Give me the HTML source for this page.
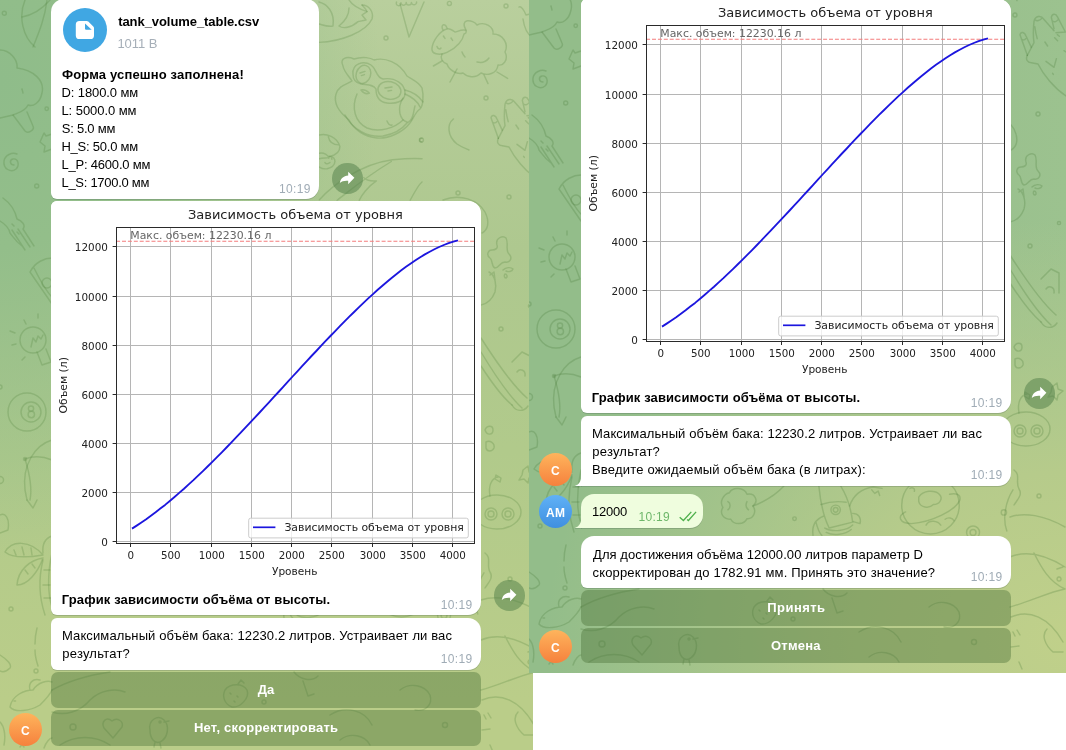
<!DOCTYPE html>
<html lang="ru"><head><meta charset="utf-8"><title>Telegram</title>
<style>
html,body{margin:0;padding:0;background:#fff}
body{width:1066px;height:750px;position:relative;overflow:hidden;font-family:"Liberation Sans",sans-serif;font-size:13px;color:#000}
.panel{position:absolute;overflow:hidden}
#L{left:0;top:0;width:533px;height:750px;background:#b8cd90}
#R{left:529px;top:0;width:537px;height:673px;background:linear-gradient(90deg,#93bd8a 0%,#93bd8a 45%,#9cc28f 100%)}
.bg{position:absolute;left:0;top:0;right:0;bottom:0}
.b{position:absolute;background:#fff;box-shadow:0 1px 0.5px rgba(16,35,47,0.16);overflow:hidden}
.t{position:absolute;white-space:nowrap;line-height:18px;height:18px}
.bold{font-weight:700}
.time{font-size:12px;color:#a0acb6}
.gtime{font-size:12px;color:#6eb76a}
.grey{color:#a6afb8}
.btn{position:absolute;border-radius:7px;background:rgba(76,115,57,0.42);color:#fff;font-weight:700;text-align:center}
.fwd{position:absolute;width:30.5px;height:30.5px;border-radius:50%;background:rgba(80,126,72,0.5)}
.av{position:absolute;width:33px;height:33px;border-radius:50%;color:#fff;font-weight:700;font-size:12px;text-align:center;line-height:36px;letter-spacing:0.3px}
.or{background:linear-gradient(#feb45c,#f6813d)}
.bl{background:linear-gradient(#60b1f6,#3f8fe0)}
.pat{position:absolute;left:0;top:0}
.chart{position:absolute;left:0;top:0;display:block}

.w{color:#fff}
</style></head><body>
<div class="panel" id="L">
<div class="bg" style="background:radial-gradient(ellipse 380px 480px at 0px 80px,#8fbc8a 0%,#93be8a 35%,rgba(147,190,138,0) 100%),linear-gradient(180deg,#b9cf9d 0px,#b3cb96 110px,#aec88f 250px,#b1ca8b 450px,#bacd89 700px)"></div>
<svg class="pat" width="533" height="750" viewBox="0 0 533 750" stroke="rgba(75,125,55,0.24)"><g id="pat" fill="none" stroke-linecap="round" stroke-linejoin="round" stroke-width="1.45"><circle cx="4.3" cy="13.3" r="2"/><path d="M25,0 C18,17 23,37 35,47"/><path d="M22,17 C33,15 43,8 50,0"/><path d="M33,47 C40,30 45,17 47,0"/><path d="M0,50 C10,50 18,60 17,68 C33,70 45,80 42,93 C40,103 33,107 28,105 C25,112 17,113 13,115 L0,118"/><path d="M13,115 L25,131 C28,134 35,130 33,126 L27,112"/><path d="M22,89 l1,4"/><circle cx="46.7" cy="108.7" r="1.7"/><path d="M52,134 L46,136 L44,133 L40,142 L45,146 L44,152 L52,149"/><path d="M14,165 C10,165 9,160 13,159 C18,158 20,165 16,169 C11,173 3,169 4,161 C5,155 12,152 17,154"/><circle cx="36.7" cy="186" r="2"/><path d="M3,198 C10,203 15,210 17,219 C22,221 26,225 23,229 L34,246 M18,229 L30,247 M12,230 L25,250 M0,221 C5,224 9,228 10,233 C14,238 16,242 22,246"/><path d="M12,224 l2,2 M17,232 l2,2"/><path d="M30,272 C35,262 45,258 52,258 M30,272 L52,304 M34,268 C38,276 45,290 52,297"/><circle cx="47" cy="283" r="5"/><circle cx="33" cy="340" r="13"/><path d="M37,352 L42,365 L51,362 L46,349"/><path d="M10,331 l5,2 M12,345 l4,-1 M24,320 l2,4 M38,314 l0,4 M22,360 l3,-3"/><path d="M31,347 l2,-9 l3,4 l2,-6 l3,3 l2,-4"/><circle cx="27" cy="412" r="19"/><circle cx="31" cy="412" r="10"/><circle cx="31" cy="408.5" r="2.6"/><circle cx="31.3" cy="414.5" r="3.2"/><circle cx="0" cy="387" r="2"/><path d="M52,440 C35,445 22,465 25,490 L27,500"/><path d="M25,459 C35,455 45,457 52,460"/><path d="M25,459 C30,475 32,490 30,500"/><circle cx="25" cy="459" r="1.5"/><circle cx="0" cy="480" r="3.5"/><path d="M0,515 C5,512 10,518 8,530 L0,533"/><path d="M27,500 L33,508 L37,500"/><path d="M43,560 C38,580 40,600 45,615 M52,553 C47,575 48,595 52,607"/><path d="M43,555 C30,540 12,540 5,552 C12,558 25,558 43,555 M14,550 l2,5 M22,547 l2,8 M31,548 l1,7"/><path d="M43,558 C30,560 18,570 17,585 C28,585 38,572 43,558 M25,570 l3,4 M32,564 l3,4"/><path d="M43,553 C42,543 46,538 52,536"/><path d="M44,570 h6 M43,585 h7 M44,598 h7"/><circle cx="11" cy="609" r="2"/><path d="M37,628 C35,636 35,640 35,644 M35,650 C35,656 36,660 38,666"/><path d="M0,655 C8,660 12,665 10,668 C6,672 2,672 0,671"/><circle cx="36" cy="671" r="2"/><path d="M10,707 C12,695 25,690 33,690 C38,682 48,680 52,682 M10,707 C15,713 30,711 40,705 C45,700 50,695 52,690 M30,690 C28,683 33,678 40,680 M14,701 l1.5,0"/><path d="M20,742 l4,5 M24,742 l-4,5"/><path d="M0,722 C4,726 6,735 4,745"/><path d="M44,748 C46,742 50,738 52,738"/><g transform="translate(319,0) scale(0.20000)" stroke-width="7.25"><path d="M0,212 C110,208 235,160 265,95 C275,60 250,25 215,25"/><path d="M150,0 C165,25 200,45 240,58 L215,75 L235,100 L195,108 C160,140 120,145 100,130 C125,110 150,80 150,40"/><path d="M0,10 C40,20 80,60 70,130 C40,135 20,125 0,120"/><path d="M215,25 C225,35 235,45 240,58"/><path d="M405,18 L450,185 L525,10"/><path d="M388,10 a12,12 0 1 0 22,4 a12,12 0 1 0 26,-2 a12,12 0 1 0 26,0 a12,12 0 1 0 26,-2"/><circle cx="652" cy="17" r="10"/><circle cx="935" cy="30" r="10"/><circle cx="335" cy="190" r="10"/><circle cx="835" cy="490" r="10"/><circle cx="512" cy="700" r="10"/><path d="M735,150 C700,90 770,95 790,125 C830,105 875,135 870,170 C920,170 950,220 930,260 C950,300 920,330 895,325 C890,370 840,380 810,365 C780,395 740,385 720,365 C690,375 650,350 640,320 C615,310 605,290 615,270"/><path d="M640,145 C610,150 570,200 565,240 C560,270 600,280 640,262 C690,240 720,200 725,170 C740,165 740,150 725,150 C700,150 690,160 680,160 C665,150 650,140 640,145 Z"/><path d="M620,150 C605,125 630,110 640,140"/><path d="M615,305 L572,330 M690,345 L655,410 M825,375 L845,418 M890,360 L943,392"/><path d="M622,180 l8,12 M660,190 l8,12 M590,232 c5,15 15,15 20,8"/><path d="M715,260 c5,15 10,20 15,25 M790,310 c20,5 45,0 60,-20"/><path d="M120,330 C100,290 140,280 175,295 C220,280 260,290 275,300 C330,285 400,310 440,380 C470,400 500,410 515,440 C525,480 520,530 505,545 C480,560 470,600 455,615 C420,660 350,695 290,690 C230,685 175,650 150,600 C100,560 70,520 85,470 C95,430 140,420 165,405 C150,380 125,360 120,330 Z"/><path d="M170,370 C165,320 220,300 260,325 C290,345 285,390 320,395 C380,385 430,420 430,465 C430,510 380,520 340,515 C300,510 285,480 285,445 C270,420 240,425 210,420 C185,415 170,395 170,370 Z"/><ellipse cx="222" cy="372" rx="36" ry="46" transform="rotate(18 222 372)"/><ellipse cx="352" cy="452" rx="58" ry="44" transform="rotate(12 352 452)"/><path d="M430,450 C470,460 500,480 520,510 M430,470 C465,485 490,500 505,535"/><path d="M190,470 C160,540 180,610 240,640 C300,665 380,640 420,600"/><path d="M210,450 q22,-5 42,16 q-22,10 -42,-16"/><path d="M420,490 C390,540 400,600 445,612 C475,600 470,560 480,530"/><path d="M130,575 C170,650 250,690 320,680 C380,670 420,640 440,615"/><path d="M340,605 q10,25 25,20"/><path d="M205,365 l25,-8 M212,378 l15,-5 M330,440 l35,-5 M345,455 l18,-3"/><path d="M672,595 C640,620 640,680 690,720 C720,740 740,745 750,750"/><path d="M1000,35 C1010,28 1025,50 1035,75 L1055,70 M1020,95 C1025,130 1040,170 1065,185"/></g><g transform="translate(481,83) scale(0.13333)" stroke-width="10.88"><path d="M75,260 C80,235 110,240 120,270 L160,355 M75,260 L130,415 M85,292 c10,10 25,10 33,-2"/><path d="M130,415 C115,445 130,470 160,470 L210,480 C250,560 330,660 420,720"/><path d="M180,160 C190,115 235,115 250,140 L330,230 M180,160 C175,210 170,260 180,320 L130,415 M190,150 c10,10 35,5 48,-12 M186,200 c4,30 9,60 18,90"/><path d="M310,130 C315,100 345,100 355,125 L415,240 L345,245 M310,130 L330,215 M320,157 c10,10 25,8 37,-6"/><path d="M262,315 l20,30 M335,283 l22,22 M355,260 l15,12 M270,460 L330,505 L348,440 M320,550 l5,8 M405,380 l15,10"/></g><g transform="translate(315,120) scale(0.11066)" stroke-width="13.10"><path d="M40,135 C100,120 200,150 225,240 C225,290 180,320 130,330 M120,150 C130,200 170,225 215,225"/><path d="M40,300 C80,290 120,320 125,345 M40,350 C60,340 100,345 120,340 M130,330 C200,330 200,420 110,440 C80,445 55,435 40,425 M90,385 c10,15 30,15 45,0 M150,345 l3,10"/><path d="M40,720 C150,600 400,400 700,360 C800,350 900,345 967,350 M200,725 C300,650 450,520 690,375 M440,520 C450,540 500,555 555,550 C480,600 420,680 400,725 M860,725 C900,650 940,580 967,560"/><path d="M967,165 c-25,0 -30,30 0,35"/></g><circle cx="509" cy="197" r="2"/><path d="M443,200 C460,193 478,200 485,212 C490,222 488,230 482,233"/><circle cx="458" cy="193" r="2"/><path d="M497,245 C495,238 503,235 506,238 C509,243 505,250 509,254 C513,258 510,263 505,262 C500,262 499,268 495,268 C491,266 493,260 490,258 C486,255 488,250 492,250 C496,250 498,248 497,245 Z"/><path d="M503,270 c3,-3 8,-3 10,-1 c-1,3 -5,3 -7,2 M505,274 c2,0 3,3 1,4 c-2,0 -2,-3 -1,-4"/><path d="M489,272 C495,275 497,285 495,292 C492,300 486,304 481,305 M490,275 l4,-3 l1,8"/><circle cx="501" cy="329" r="2"/><circle cx="530" cy="306" r="1.6"/><path d="M481,338 C495,360 512,385 527,398 M481,352 C493,372 508,395 522,408 M481,366 C490,380 500,395 512,405"/><path d="M512,362 L522,352 L530,356 L530,376 M517,372 C520,368 526,370 525,376"/><path d="M512,405 C516,412 524,412 528,406"/><path d="M485,430 c2,-5 8,-5 8,0 c0,5 -6,6 -8,0 M486,442 C490,440 495,443 494,448 C492,452 487,452 486,448 Z"/><path d="M523,470 l5,-4 l1,6 l5,2 l-5,4 l-1,5 l-4,-4 l-5,1 l3,-5 z"/><ellipse cx="497" cy="512" rx="24" ry="17" transform="rotate(0 497 512)"/><circle cx="491" cy="514" r="6"/><circle cx="491" cy="514" r="3"/><circle cx="508" cy="514" r="6"/><circle cx="508" cy="514" r="3"/><path d="M490,496 C488,485 492,478 498,477 M496,475 l5,3 l-1,4 l-5,-3 z"/><path d="M485,553 C492,558 486,565 490,572 C494,578 488,583 485,588"/><circle cx="510" cy="579" r="2"/><path d="M481,600 C495,595 515,598 536,610 M481,640 C500,632 520,640 536,650 M505,636 C512,650 520,665 536,672 M481,690 C500,685 520,675 536,672"/><path d="M482,700 C500,692 520,700 534,725 M518,712 C512,718 516,728 524,735 L534,735 M484,715 l2,4 M488,713 l3,5 M482,730 l8,-1 M490,745 L493,752"/><path d="M534,650 l-6,2 M530,660 a2,2 0 1 0 0.1,0"/><g transform="translate(171,567) scale(0.29360)" stroke-width="4.94"><path d="M100,30 C110,10 150,10 160,35 C190,30 200,60 180,75 C195,95 180,120 160,118 C150,140 115,140 105,120 C80,120 65,100 78,80 C65,60 80,35 100,30 Z"/><path d="M95,60 c10,5 10,20 0,28 M160,60 c-5,10 -5,20 5,28 M180,75 C220,60 260,35 285,8"/><circle cx="322" cy="118" r="6"/><path d="M405,8 C410,60 420,110 440,150 L520,130 C515,90 500,40 480,8"/><circle cx="462" cy="88" r="16"/><circle cx="462" cy="88" r="8"/><path d="M420,110 C395,120 380,140 385,175 M395,130 C400,150 405,165 415,175 M520,100 C540,100 550,115 545,135 L522,128"/><path d="M425,150 C450,165 500,160 520,140 M430,165 C455,178 495,172 515,155 M412,70 C440,60 470,58 498,62"/><path d="M510,75 C520,40 550,15 590,10 M585,20 l10,12 l12,-8 l5,15 M590,10 l30,5"/><circle cx="785" cy="72" r="98"/><path d="M700,95 C670,110 680,135 720,135 C790,130 870,90 885,55 C890,35 870,30 850,35"/><path d="M745,45 C760,20 800,20 815,35 C830,50 815,70 795,70 C780,85 750,80 745,60 Z"/><path d="M770,140 C780,120 810,125 820,140 M835,120 c10,-8 25,-5 30,5 M715,15 c8,-5 18,0 15,10"/><circle cx="930" cy="165" r="22"/><circle cx="930" cy="165" r="10"/><circle cx="1035" cy="97" r="9"/><path d="M1066,20 C1040,60 1030,120 1045,160"/></g><path d="M52,690 C70,680 90,675 110,672 M52,712 C65,716 80,712 90,700 C100,690 115,688 125,692 M60,745 C75,735 95,735 110,745"/><path d="M225,690 C230,683 243,683 247,690 C250,698 240,708 232,707 C224,704 222,696 225,690 Z M238,684 l3,-4 l3,3 M230,693 l1,1 M237,696 l1,1 M234,701 l1,1"/><circle cx="264" cy="702" r="2"/><path d="M294,672 C300,680 312,682 318,676 M303,681 L308,696 L314,694"/><path d="M112,721 C106,716 101,722 104,728 L113,738 L122,727 C124,721 117,717 112,721 Z"/><path d="M150,730 C148,720 158,714 164,720 C170,726 168,738 160,742 C154,744 150,738 150,730 Z M164,722 l5,-1 M155,742 l-1,5 M160,743 l1,5"/><circle cx="160" cy="722" r="1"/><circle cx="73" cy="727" r="3"/><path d="M330,715 C345,705 365,710 372,725 M340,740 C350,732 365,735 370,745"/><path d="M400,690 C410,682 425,685 430,695 C433,705 425,712 415,710"/><circle cx="445" cy="725" r="2.5"/></g></svg>
<div class="b" style="left:51px;top:-1px;width:268px;height:200px;border-radius:13px 13px 13px 6px"></div>
<div style="position:absolute;left:63px;top:8px;width:44px;height:44px;border-radius:50%;background:#40a7e3"></div>
<svg style="position:absolute;left:63px;top:8px" width="44" height="44" viewBox="0 0 44 44"><path d="M16.4 12.9 H23.6 Q24.6 12.9 25.3 13.6 L30.3 18.4 Q31 19.1 31 20.1 V27.4 a3.6 3.6 0 0 1 -3.6 3.6 H16.4 a3.6 3.6 0 0 1 -3.6 -3.6 V16.5 a3.6 3.6 0 0 1 3.6 -3.6 Z" fill="#fff"/><path d="M22 15.5 L28.7 21.8 H23.2 a1.2 1.2 0 0 1 -1.2 -1.2 Z" fill="#40a7e3"/></svg>
<div class="t bold" id="t0" style="left:118.20px;top:13.49px;letter-spacing:-0.067px;">tank_volume_table.csv</div>
<div class="t grey" id="t1" style="left:117.45px;top:35.09px;letter-spacing:-0.070px;">1011 B</div>
<div class="t bold" id="t2" style="left:61.95px;top:66.49px;letter-spacing:0.152px;">Форма успешно заполнена!</div>
<div class="t " id="t3" style="left:61.45px;top:84.49px;letter-spacing:-0.091px;">D: 1800.0 мм</div>
<div class="t " id="t4" style="left:61.45px;top:102.49px;letter-spacing:-0.059px;">L: 5000.0 мм</div>
<div class="t " id="t5" style="left:61.70px;top:120.49px;letter-spacing:-0.219px;">S: 5.0 мм</div>
<div class="t " id="t6" style="left:61.45px;top:138.49px;letter-spacing:-0.228px;">H_S: 50.0 мм</div>
<div class="t " id="t7" style="left:61.45px;top:156.49px;letter-spacing:-0.202px;">L_P: 4600.0 мм</div>
<div class="t " id="t8" style="left:61.45px;top:174.49px;letter-spacing:-0.279px;">L_S: 1700.0 мм</div>
<div class="t time" id="t9" style="left:279.00px;top:179.84px;letter-spacing:0.375px;">10:19</div>
<div class="fwd" style="left:332.1px;top:163.1px"><svg viewBox="0 0 30 30" width="30" height="30"><path d="M16.2 8.7 L22.4 14.8 L16.2 21.2 V17.7 C12.4 17.4 9.9 18.1 7.8 19.9 C8.5 15.6 11.4 12.8 16.2 12.4 Z" fill="#fff"/></svg></div>
<div class="b" style="left:51px;top:201px;width:430px;height:414px;border-radius:6px 13px 13px 6px"><svg class="chart" width="430" height="390" viewBox="0 0 430 390" font-family="DejaVu Sans, sans-serif" fill="#222">
<rect x="0" y="0" width="430" height="390" fill="#fff"/>
<path d="M79.5,26.20V342.50M119.5,26.20V342.50M160.5,26.20V342.50M200.5,26.20V342.50M240.5,26.20V342.50M280.5,26.20V342.50M321.5,26.20V342.50M361.5,26.20V342.50M401.5,26.20V342.50M65.10,340.5H423.70M65.10,291.5H423.70M65.10,242.5H423.70M65.10,193.5H423.70M65.10,144.5H423.70M65.10,95.5H423.70M65.10,45.5H423.70" stroke="#b5b5b5" stroke-width="1" fill="none"/>
<path d="M65.10,40.20H423.70" stroke="#f47c7c" stroke-width="1.05" stroke-dasharray="4,1.9" fill="none"/>
<path d="M81.0,327.6 L85.7,324.6 L90.4,321.5 L95.2,318.2 L99.9,314.8 L104.6,311.3 L109.3,307.6 L114.1,303.9 L118.8,300.0 L123.5,296.0 L128.2,291.9 L133.0,287.7 L137.7,283.4 L142.4,279.1 L147.1,274.6 L151.9,270.1 L156.6,265.5 L161.3,260.8 L166.0,256.1 L170.8,251.3 L175.5,246.5 L180.2,241.6 L184.9,236.7 L189.7,231.7 L194.4,226.7 L199.1,221.7 L203.8,216.6 L208.6,211.5 L213.3,206.4 L218.0,201.3 L222.7,196.1 L227.5,191.0 L232.2,185.8 L236.9,180.7 L241.6,175.5 L246.4,170.4 L251.1,165.2 L255.8,160.1 L260.5,155.0 L265.3,150.0 L270.0,144.9 L274.7,139.9 L279.4,135.0 L284.2,130.1 L288.9,125.2 L293.6,120.4 L298.3,115.7 L303.1,111.0 L307.8,106.4 L312.5,101.9 L317.2,97.4 L322.0,93.1 L326.7,88.8 L331.4,84.7 L336.1,80.7 L340.9,76.7 L345.6,73.0 L350.3,69.3 L355.0,65.8 L359.8,62.5 L364.5,59.3 L369.2,56.2 L373.9,53.4 L378.7,50.7 L383.4,48.3 L388.1,46.0 L392.8,44.0 L397.6,42.2 L402.3,40.6 L407.0,39.3" stroke="#1c16de" stroke-width="1.85" fill="none" stroke-linejoin="round" stroke-linecap="butt"/>
<path d="M79.50,342.50v3.5M119.50,342.50v3.5M160.50,342.50v3.5M200.50,342.50v3.5M240.50,342.50v3.5M280.50,342.50v3.5M321.50,342.50v3.5M361.50,342.50v3.5M401.50,342.50v3.5M65.10,340.50h-3.5M65.10,291.50h-3.5M65.10,242.50h-3.5M65.10,193.50h-3.5M65.10,144.50h-3.5M65.10,95.50h-3.5M65.10,45.50h-3.5" stroke="#2a2a2a" stroke-width="1" fill="none"/>
<rect x="65.5" y="26.5" width="358.0" height="316.0" fill="none" stroke="#2a2a2a" stroke-width="1"/>
<text x="79.8" y="358.2" font-size="10.3" text-anchor="middle">0</text>
<text x="119.8" y="358.2" font-size="10.3" text-anchor="middle">500</text>
<text x="160.8" y="358.2" font-size="10.3" text-anchor="middle">1000</text>
<text x="200.8" y="358.2" font-size="10.3" text-anchor="middle">1500</text>
<text x="240.8" y="358.2" font-size="10.3" text-anchor="middle">2000</text>
<text x="280.8" y="358.2" font-size="10.3" text-anchor="middle">2500</text>
<text x="321.8" y="358.2" font-size="10.3" text-anchor="middle">3000</text>
<text x="361.8" y="358.2" font-size="10.3" text-anchor="middle">3500</text>
<text x="401.8" y="358.2" font-size="10.3" text-anchor="middle">4000</text>
<text x="56.9" y="344.7" font-size="10.4" text-anchor="end">0</text>
<text x="56.9" y="295.7" font-size="10.4" text-anchor="end">2000</text>
<text x="56.9" y="246.7" font-size="10.4" text-anchor="end">4000</text>
<text x="56.9" y="197.7" font-size="10.4" text-anchor="end">6000</text>
<text x="56.9" y="148.7" font-size="10.4" text-anchor="end">8000</text>
<text x="56.9" y="99.6" font-size="10.4" text-anchor="end">10000</text>
<text x="56.9" y="49.6" font-size="10.4" text-anchor="end">12000</text>
<text x="244.4" y="17.9" font-size="13" text-anchor="middle">Зависимость объема от уровня</text>
<text x="243.7" y="373.3" font-size="10.55" text-anchor="middle" dy="0.7">Уровень</text>
<text transform="translate(16.0,184.3) rotate(-90)" font-size="10.85" text-anchor="middle">Объем (л)</text>
<text x="79.3" y="37.9" font-size="10.9" fill="#666">Макс. объем: 12230.16 л</text>
<rect x="197.7" y="317.2" width="219.6" height="19.7" rx="2" fill="#fff" fill-opacity="0.8" stroke="#cccccc" stroke-width="1"/>
<path d="M202.0,326.3H224.4" stroke="#1c16de" stroke-width="1.7"/>
<text x="233.4" y="330.2" font-size="10.87">Зависимость объема от уровня</text>
</svg></div>
<div class="t bold" id="t10" style="left:61.75px;top:591.49px;letter-spacing:0.121px;">График зависимости объёма от высоты.</div>
<div class="t time" id="t11" style="left:440.80px;top:596.34px;letter-spacing:0.323px;">10:19</div>
<div class="fwd" style="left:494.1px;top:580.1px"><svg viewBox="0 0 30 30" width="30" height="30"><path d="M16.2 8.7 L22.4 14.8 L16.2 21.2 V17.7 C12.4 17.4 9.9 18.1 7.8 19.9 C8.5 15.6 11.4 12.8 16.2 12.4 Z" fill="#fff"/></svg></div>
<div class="b" style="left:51px;top:618px;width:430px;height:51.5px;border-radius:6px 13px 13px 6px"></div>
<div class="t " id="t12" style="left:62.00px;top:627.49px;letter-spacing:0.112px;">Максимальный объём бака: 12230.2 литров. Устраивает ли вас</div>
<div class="t " id="t13" style="left:62.25px;top:645.49px;letter-spacing:0.230px;">результат?</div>
<div class="t time" id="t14" style="left:440.80px;top:649.84px;letter-spacing:0.323px;">10:19</div>
<div class="btn" style="left:51px;top:672px;width:430px;height:35.5px"></div>
<div class="btn" style="left:51px;top:710px;width:430px;height:35.5px"></div>
<div class="t bold w" id="t15" style="left:257.70px;top:681.49px;">Да</div>
<div class="t bold w" id="t16" style="left:193.95px;top:719.49px;letter-spacing:0.224px;">Нет, скорректировать</div>
<div class="av or" style="left:9.100000000000001px;top:712.8px">С</div>
</div>
<div class="panel" id="R">
<div class="bg" style="background:radial-gradient(ellipse 520px 420px at 537px 640px,#c0d08a 0%,#b6cb8b 40%,rgba(170,200,140,0) 100%)"></div>
<svg class="pat" width="537" height="673" viewBox="0 83 537 673" stroke="rgba(65,118,52,0.24)"><use href="#pat"/></svg>
<div class="b" style="left:52px;top:-1px;width:430px;height:414px;border-radius:6px 13px 13px 6px"><svg class="chart" width="430" height="390" viewBox="0 0 430 390" font-family="DejaVu Sans, sans-serif" fill="#222">
<rect x="0" y="0" width="430" height="390" fill="#fff"/>
<path d="M79.5,26.20V342.50M119.5,26.20V342.50M160.5,26.20V342.50M200.5,26.20V342.50M240.5,26.20V342.50M280.5,26.20V342.50M321.5,26.20V342.50M361.5,26.20V342.50M401.5,26.20V342.50M65.10,340.5H423.70M65.10,291.5H423.70M65.10,242.5H423.70M65.10,193.5H423.70M65.10,144.5H423.70M65.10,95.5H423.70M65.10,45.5H423.70" stroke="#b5b5b5" stroke-width="1" fill="none"/>
<path d="M65.10,40.20H423.70" stroke="#f47c7c" stroke-width="1.05" stroke-dasharray="4,1.9" fill="none"/>
<path d="M81.0,327.6 L85.7,324.6 L90.4,321.5 L95.2,318.2 L99.9,314.8 L104.6,311.3 L109.3,307.6 L114.1,303.9 L118.8,300.0 L123.5,296.0 L128.2,291.9 L133.0,287.7 L137.7,283.4 L142.4,279.1 L147.1,274.6 L151.9,270.1 L156.6,265.5 L161.3,260.8 L166.0,256.1 L170.8,251.3 L175.5,246.5 L180.2,241.6 L184.9,236.7 L189.7,231.7 L194.4,226.7 L199.1,221.7 L203.8,216.6 L208.6,211.5 L213.3,206.4 L218.0,201.3 L222.7,196.1 L227.5,191.0 L232.2,185.8 L236.9,180.7 L241.6,175.5 L246.4,170.4 L251.1,165.2 L255.8,160.1 L260.5,155.0 L265.3,150.0 L270.0,144.9 L274.7,139.9 L279.4,135.0 L284.2,130.1 L288.9,125.2 L293.6,120.4 L298.3,115.7 L303.1,111.0 L307.8,106.4 L312.5,101.9 L317.2,97.4 L322.0,93.1 L326.7,88.8 L331.4,84.7 L336.1,80.7 L340.9,76.7 L345.6,73.0 L350.3,69.3 L355.0,65.8 L359.8,62.5 L364.5,59.3 L369.2,56.2 L373.9,53.4 L378.7,50.7 L383.4,48.3 L388.1,46.0 L392.8,44.0 L397.6,42.2 L402.3,40.6 L407.0,39.3" stroke="#1c16de" stroke-width="1.85" fill="none" stroke-linejoin="round" stroke-linecap="butt"/>
<path d="M79.50,342.50v3.5M119.50,342.50v3.5M160.50,342.50v3.5M200.50,342.50v3.5M240.50,342.50v3.5M280.50,342.50v3.5M321.50,342.50v3.5M361.50,342.50v3.5M401.50,342.50v3.5M65.10,340.50h-3.5M65.10,291.50h-3.5M65.10,242.50h-3.5M65.10,193.50h-3.5M65.10,144.50h-3.5M65.10,95.50h-3.5M65.10,45.50h-3.5" stroke="#2a2a2a" stroke-width="1" fill="none"/>
<rect x="65.5" y="26.5" width="358.0" height="316.0" fill="none" stroke="#2a2a2a" stroke-width="1"/>
<text x="79.8" y="358.2" font-size="10.3" text-anchor="middle">0</text>
<text x="119.8" y="358.2" font-size="10.3" text-anchor="middle">500</text>
<text x="160.8" y="358.2" font-size="10.3" text-anchor="middle">1000</text>
<text x="200.8" y="358.2" font-size="10.3" text-anchor="middle">1500</text>
<text x="240.8" y="358.2" font-size="10.3" text-anchor="middle">2000</text>
<text x="280.8" y="358.2" font-size="10.3" text-anchor="middle">2500</text>
<text x="321.8" y="358.2" font-size="10.3" text-anchor="middle">3000</text>
<text x="361.8" y="358.2" font-size="10.3" text-anchor="middle">3500</text>
<text x="401.8" y="358.2" font-size="10.3" text-anchor="middle">4000</text>
<text x="56.9" y="344.7" font-size="10.4" text-anchor="end">0</text>
<text x="56.9" y="295.7" font-size="10.4" text-anchor="end">2000</text>
<text x="56.9" y="246.7" font-size="10.4" text-anchor="end">4000</text>
<text x="56.9" y="197.7" font-size="10.4" text-anchor="end">6000</text>
<text x="56.9" y="148.7" font-size="10.4" text-anchor="end">8000</text>
<text x="56.9" y="99.6" font-size="10.4" text-anchor="end">10000</text>
<text x="56.9" y="49.6" font-size="10.4" text-anchor="end">12000</text>
<text x="244.4" y="17.9" font-size="13" text-anchor="middle">Зависимость объема от уровня</text>
<text x="243.7" y="373.3" font-size="10.55" text-anchor="middle" dy="0.7">Уровень</text>
<text transform="translate(16.0,184.3) rotate(-90)" font-size="10.85" text-anchor="middle">Объем (л)</text>
<text x="79.3" y="37.9" font-size="10.9" fill="#666">Макс. объем: 12230.16 л</text>
<rect x="197.7" y="317.2" width="219.6" height="19.7" rx="2" fill="#fff" fill-opacity="0.8" stroke="#cccccc" stroke-width="1"/>
<path d="M202.0,326.3H224.4" stroke="#1c16de" stroke-width="1.7"/>
<text x="233.4" y="330.2" font-size="10.87">Зависимость объема от уровня</text>
</svg></div>
<div class="t bold" id="t17" style="left:62.75px;top:389.49px;letter-spacing:0.121px;">График зависимости объёма от высоты.</div>
<div class="t time" id="t18" style="left:441.80px;top:394.34px;letter-spacing:0.323px;">10:19</div>
<div class="fwd" style="left:495.3px;top:378.1px"><svg viewBox="0 0 30 30" width="30" height="30"><path d="M16.2 8.7 L22.4 14.8 L16.2 21.2 V17.7 C12.4 17.4 9.9 18.1 7.8 19.9 C8.5 15.6 11.4 12.8 16.2 12.4 Z" fill="#fff"/></svg></div>
<div class="b" style="left:52px;top:416px;width:430px;height:69.5px;border-radius:6px 13px 13px 0"></div>
<div class="t " id="t19" style="left:63.00px;top:425.49px;letter-spacing:0.112px;">Максимальный объём бака: 12230.2 литров. Устраивает ли вас</div>
<div class="t " id="t20" style="left:63.25px;top:443.49px;letter-spacing:0.230px;">результат?</div>
<div class="t " id="t21" style="left:63.00px;top:461.49px;letter-spacing:0.195px;">Введите ожидаемый объём бака (в литрах):</div>
<div class="t time" id="t22" style="left:441.80px;top:466.44px;letter-spacing:0.323px;">10:19</div>
<svg style="position:absolute;left:45px;top:473.5px;overflow:visible" width="8" height="13" viewBox="-7 -12 8 13"><path d="M0.5,-12 C0.5,-5.5 -1.5,-1.5 -6.2,0 L0.5,0 Z" fill="#fff"/><path d="M-6.2,0.5 H0.5" stroke="rgba(16,35,47,0.13)" stroke-width="1"/></svg>
<div class="av or" style="left:10.100000000000023px;top:452.8px">С</div>
<div class="b" style="left:52px;top:494px;width:122px;height:34px;border-radius:13px 13px 13px 0;background:#effdde"></div>
<div class="t " id="t23" style="left:63.00px;top:503.49px;letter-spacing:-0.240px;">12000</div>
<div class="t gtime" id="t24" style="left:109.50px;top:508.34px;letter-spacing:0.291px;">10:19</div>
<svg style="position:absolute;left:141px;top:505px" width="30" height="20" viewBox="670 505 30 20"><path d="M679.7,517.3 L683.4,520.5 L691.3,511.9 M687.1,519.5 L688.4,520.5 L696.1,511.9" fill="none" stroke="#4fb04c" stroke-width="1.35" stroke-linecap="butt" stroke-linejoin="miter"/></svg>
<svg style="position:absolute;left:45px;top:516px;overflow:visible" width="8" height="13" viewBox="-7 -12 8 13"><path d="M0.5,-12 C0.5,-5.5 -1.5,-1.5 -6.2,0 L0.5,0 Z" fill="#effdde"/><path d="M-6.2,0.5 H0.5" stroke="rgba(16,35,47,0.13)" stroke-width="1"/></svg>
<div class="av bl" style="left:10.100000000000023px;top:495.0px">AM</div>
<div class="b" style="left:52px;top:536px;width:430px;height:52px;border-radius:13px 13px 13px 6px"></div>
<div class="t " id="t25" style="left:64.00px;top:545.99px;letter-spacing:0.076px;">Для достижения объёма 12000.00 литров параметр D</div>
<div class="t " id="t26" style="left:63.50px;top:563.99px;letter-spacing:0.170px;">скорректирован до 1782.91 мм. Принять это значение?</div>
<div class="t time" id="t27" style="left:441.80px;top:568.34px;letter-spacing:0.323px;">10:19</div>
<div class="btn" style="left:52px;top:590px;width:430px;height:35.5px"></div>
<div class="btn" style="left:52px;top:628px;width:430px;height:35px"></div>
<div class="t bold w" id="t28" style="left:238.25px;top:599.49px;letter-spacing:0.458px;">Принять</div>
<div class="t bold w" id="t29" style="left:242.00px;top:637.49px;letter-spacing:0.200px;">Отмена</div>
<div class="av or" style="left:10.100000000000023px;top:630.1px">С</div>
</div>
</body></html>
